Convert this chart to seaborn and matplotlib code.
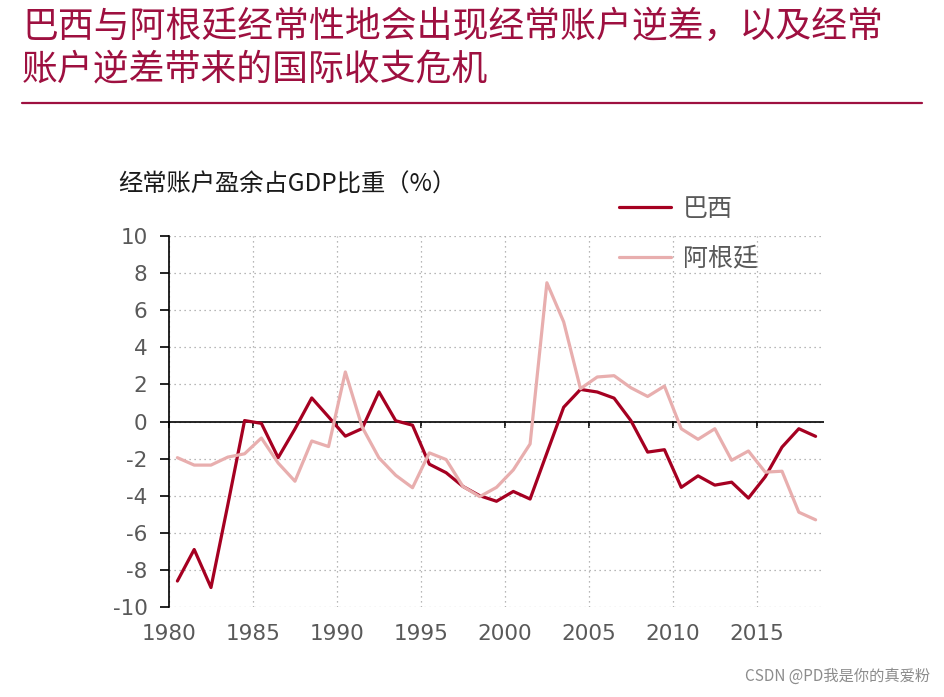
import numpy as np
import pandas as pd
import seaborn as sns
import matplotlib as mpl
import matplotlib.pyplot as plt

mpl.use('Agg')

years = list(range(1980, 2019))
brazil = [-8.6, -6.9, -8.95, -4.5, 0.05, -0.1, -1.95, -0.4, 1.27, 0.25,
          -0.79, -0.38, 1.6, 0.04, -0.2, -2.3, -2.76, -3.5, -4.0, -4.3,
          -3.77, -4.18, -1.7, 0.77, 1.73, 1.59, 1.26, 0.05, -1.65, -1.52,
          -3.55, -2.93, -3.43, -3.27, -4.13, -2.98, -1.38, -0.39, -0.8]
argentina = [-1.95, -2.35, -2.35, -1.92, -1.74, -0.89, -2.24, -3.22, -1.05, -1.35,
             2.67, -0.3, -1.96, -2.9, -3.57, -1.69, -2.05, -3.5, -4.05, -3.55,
             -2.61, -1.21, 7.48, 5.37, 1.77, 2.4, 2.47, 1.82, 1.35, 1.91,
             -0.39, -0.96, -0.39, -2.09, -1.59, -2.73, -2.68, -4.89, -5.3]
series_names = ['巴西', '阿根廷']
series_colors = ['#A50021', '#E8AEAE']
tick_years = [1980, 1985, 1990, 1995, 2000, 2005, 2010, 2015]
y_ticks = list(range(-10, 11, 2))

title = '巴西与阿根廷经常性地会出现经常账户逆差，以及经常\n账户逆差带来的国际收支危机'
ylabel = '经常账户盈余占GDP比重（%）'

df = pd.DataFrame({'year': years * 2,
                   'value': brazil + argentina,
                   'country': [series_names[0]] * len(years) + [series_names[1]] * len(years)})

sns.set_style('white')
plt.rcParams['font.family'] = ['Noto Sans CJK SC', 'DejaVu Sans']
plt.rcParams['axes.unicode_minus'] = False

fig = plt.figure(figsize=(9.45, 6.97), dpi=100)
ax = fig.add_axes([169 / 945, 1 - 607 / 697, 655 / 945, 371 / 697])

sns.lineplot(data=df, x='year', y='value', hue='country', hue_order=series_names,
             palette=series_colors, linewidth=2.3, ax=ax, legend=False)

# categories sit between tick marks (excel style)
tick_pos = [y - 0.5 for y in tick_years]
ax.set_xlim(1979.5, 2018.5)
ax.set_ylim(-10, 10)
ax.set_xticks(tick_pos)
ax.set_xticklabels([str(y) for y in tick_years])
ax.set_yticks(y_ticks)
ax.set_yticklabels([str(v) for v in y_ticks])
ax.set_xlabel('')
ax.set_ylabel('')

for s in ['top', 'right', 'bottom']:
    ax.spines[s].set_visible(False)
ax.spines['left'].set_color('black')
ax.spines['left'].set_linewidth(1.2)

grid_style = dict(color='#a0a0a0', linestyle=(0, (1, 3)), linewidth=0.9)
ax.grid(True, axis='both', **grid_style)
ax.axhline(0, color='black', linewidth=1.2, zorder=1.5)

ax.tick_params(axis='x', length=0, pad=12, labelsize=15.5, labelcolor='#595959')
ax.tick_params(axis='y', direction='out', length=6.5, width=1.2, color='black',
               pad=9, labelsize=15.5, labelcolor='#595959', left=True)
for lab in ax.get_xticklabels() + ax.get_yticklabels():
    lab.set_fontfamily('DejaVu Sans')

# tick marks on the zero line
sec = ax.secondary_xaxis(0.5)
sec.xaxis.set_ticks_position('bottom')
sec.set_xticks(tick_pos)
sec.set_xticklabels([''] * len(tick_pos))
sec.tick_params(direction='out', length=5, width=1.2, color='black')
for s in sec.spines.values():
    s.set_visible(False)

handles = [mpl.lines.Line2D([], [], color=c, linewidth=2.3) for c in series_colors]
leg = ax.legend(handles, series_names, loc='upper left', bbox_to_anchor=(0.652, 1.168),
                frameon=False, fontsize=18, handlelength=2.1, labelspacing=0.93,
                handletextpad=0.48)
for t in leg.get_texts():
    t.set_color('#595959')

fig.text(22 / 945, 1 - 9 / 697, title, ha='left', va='top', fontsize=25.8,
         color='#9E1040', linespacing=1.25)
fig.add_artist(mpl.lines.Line2D([22 / 945, 922 / 945], [1 - 103 / 697, 1 - 103 / 697],
                                color='#9E1040', linewidth=1.6))
fig.text(118 / 945, 1 - 185 / 697, ylabel, ha='left', va='center', fontsize=17.5,
         color='#1a1a1a')
fig.text(930 / 945, 1 - 676 / 697, 'CSDN @PD我是你的真爱粉', ha='right', va='center',
         fontsize=11, color='#8c8c8c')

fig.savefig('out.png', dpi=100)
plt.close(fig)
